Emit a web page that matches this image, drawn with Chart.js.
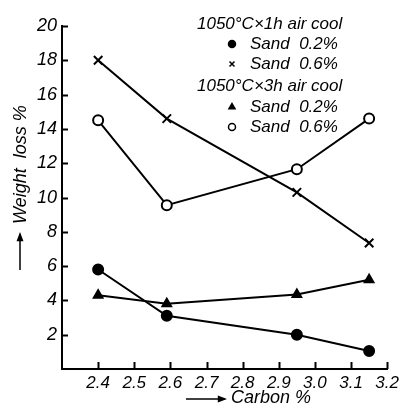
<!DOCTYPE html>
<html>
<head>
<meta charset="utf-8">
<script src="https://cdn.jsdelivr.net/npm/chart.js@4"></script>
<style>
  html, body { margin: 0; padding: 0; background: #fff; }
  #wrap { width: 403px; height: 408px; position: relative; }
</style>
</head>
<body>
<div id="wrap"><canvas id="chart" width="403" height="408"></canvas></div>
<script>
// dados
const carbon = [2.4, 2.59, 2.95, 3.15];
const sand02_1h = [5.8, 3.1, 2.0, 1.05];
const sand06_1h = [18.0, 14.6, 10.3, 7.35];
const sand02_3h = [4.3, 3.8, 4.35, 5.2];
const sand06_3h = [14.5, 9.55, 11.65, 14.6];

const xTicks = [2.4, 2.5, 2.6, 2.7, 2.8, 2.9, 3.0, 3.1, 3.2];
const yTicks = [2, 4, 6, 8, 10, 12, 14, 16, 18, 20];

const legendRows = [
    { text: '1050°C×1h air cool', marker: null },
    { text: 'Sand  0.2%', marker: 'circle', fill: '#000' },
    { text: 'Sand  0.6%', marker: 'crossRot', fill: '#000' },
    { text: '1050°C×3h air cool', marker: null },
    { text: 'Sand  0.2%', marker: 'triangle', fill: '#000' },
    { text: 'Sand  0.6%', marker: 'circle', fill: '#fff' }
];

const FONT = '"Liberation Sans", Arial, sans-serif';
const toPts = (ys) => ys.map((y, i) => ({ x: carbon[i], y }));

const serie = (data, style, fill, r) => ({
    data: toPts(data),
    borderColor: '#000',
    borderWidth: 2,
    pointStyle: style,
    pointRadius: r,
    pointBackgroundColor: fill,
    pointBorderColor: '#000',
    pointBorderWidth: 2,
    showLine: true,
    tension: 0
});

const seta = (ctx, x1, y1, x2, y2) => {
    // linha com ponta de seta em (x2, y2)
    const a = Math.atan2(y2 - y1, x2 - x1);
    ctx.beginPath(); ctx.moveTo(x1, y1); ctx.lineTo(x2, y2); ctx.stroke();
    ctx.beginPath();
    ctx.moveTo(x2 + Math.cos(a) * 2, y2 + Math.sin(a) * 2);
    ctx.lineTo(x2 - Math.cos(a - 0.45) * 8, y2 - Math.sin(a - 0.45) * 8);
    ctx.lineTo(x2 - Math.cos(a + 0.45) * 8, y2 - Math.sin(a + 0.45) * 8);
    ctx.closePath(); ctx.fill();
};

// ticks para dentro, titulos e legenda
const extras = {
    id: 'extras',
    afterDraw(chart) {
        const ctx = chart.ctx;
        const xs = chart.scales.x, ys = chart.scales.y;
        const left = chart.chartArea.left, bottom = chart.chartArea.bottom;
        ctx.save();
        ctx.strokeStyle = '#000';
        ctx.lineWidth = 2;
        yTicks.forEach(v => {
            const py = Math.round(ys.getPixelForValue(v)) + 0.5;
            ctx.beginPath(); ctx.moveTo(left, py); ctx.lineTo(left + 6, py); ctx.stroke();
        });
        xTicks.forEach(v => {
            const px = Math.round(xs.getPixelForValue(v)) + 0.5;
            ctx.beginPath(); ctx.moveTo(px, bottom); ctx.lineTo(px, bottom - 7); ctx.stroke();
        });

        ctx.fillStyle = '#000';
        ctx.font = 'italic 18px ' + FONT;
        ctx.textBaseline = 'middle';

        // titulo eixo y
        ctx.lineWidth = 1.5;
        seta(ctx, 20, 270, 20, 234);
        ctx.save();
        ctx.translate(21, 224);
        ctx.rotate(-Math.PI / 2);
        ctx.textAlign = 'left';
        ctx.fillText('Weight  loss %', 0, 0);
        ctx.restore();

        // titulo eixo x
        seta(ctx, 186, 399, 225, 399);
        ctx.textAlign = 'left';
        ctx.fillText('Carbon %', 231, 398);

        // legenda
        const rowY = [24, 44, 64, 86, 107, 127];
        ctx.font = 'italic 17px ' + FONT;
        legendRows.forEach((row, i) => {
            if (!row.marker) {
                ctx.fillText(row.text, 197, rowY[i]);
            } else {
                ctx.fillText(row.text, 250, rowY[i]);
                ctx.fillStyle = row.fill;
                ctx.strokeStyle = '#000';
                ctx.lineWidth = 1.5;
                Chart.helpers.drawPoint(ctx, { pointStyle: row.marker, radius: 3.5, borderWidth: 1.5 }, 232, rowY[i]);
                ctx.fillStyle = '#000';
            }
        });
        ctx.restore();
    }
};

new Chart(document.getElementById('chart'), {
    type: 'scatter',
    data: {
        datasets: [
            serie(sand02_1h, 'circle', '#000', 5),
            serie(sand06_1h, 'crossRot', '#000', 6),
            serie(sand02_3h, 'triangle', '#000', 5),
            serie(sand06_3h, 'circle', '#fff', 5)
        ]
    },
    options: {
        animation: false,
        responsive: false,
        layout: { padding: { top: 26, right: 11, left: 0, bottom: 0 } },
        plugins: { legend: { display: false }, tooltip: { enabled: false } },
        scales: {
            x: {
                type: 'linear', min: 2.3, max: 3.2,
                afterBuildTicks: (s) => { s.ticks = xTicks.map(v => ({ value: v })); },
                afterFit: (s) => { s.height = 39; },
                grid: { display: false, drawTicks: false },
                border: { color: '#000', width: 2 },
                ticks: {
                    color: '#000', padding: 4, maxRotation: 0, autoSkip: false,
                    font: { family: FONT, size: 17, style: 'italic' },
                    callback: (v) => Number(v).toFixed(1)
                }
            },
            y: {
                min: 0, max: 20,
                afterBuildTicks: (s) => { s.ticks = yTicks.map(v => ({ value: v })); },
                afterFit: (s) => { s.width = 62; },
                grid: { display: false, drawTicks: false },
                border: { color: '#000', width: 2 },
                ticks: {
                    color: '#000', padding: 5,
                    font: { family: FONT, size: 18, style: 'italic' }
                }
            }
        }
    },
    plugins: [extras]
});
</script>
</body>
</html>
